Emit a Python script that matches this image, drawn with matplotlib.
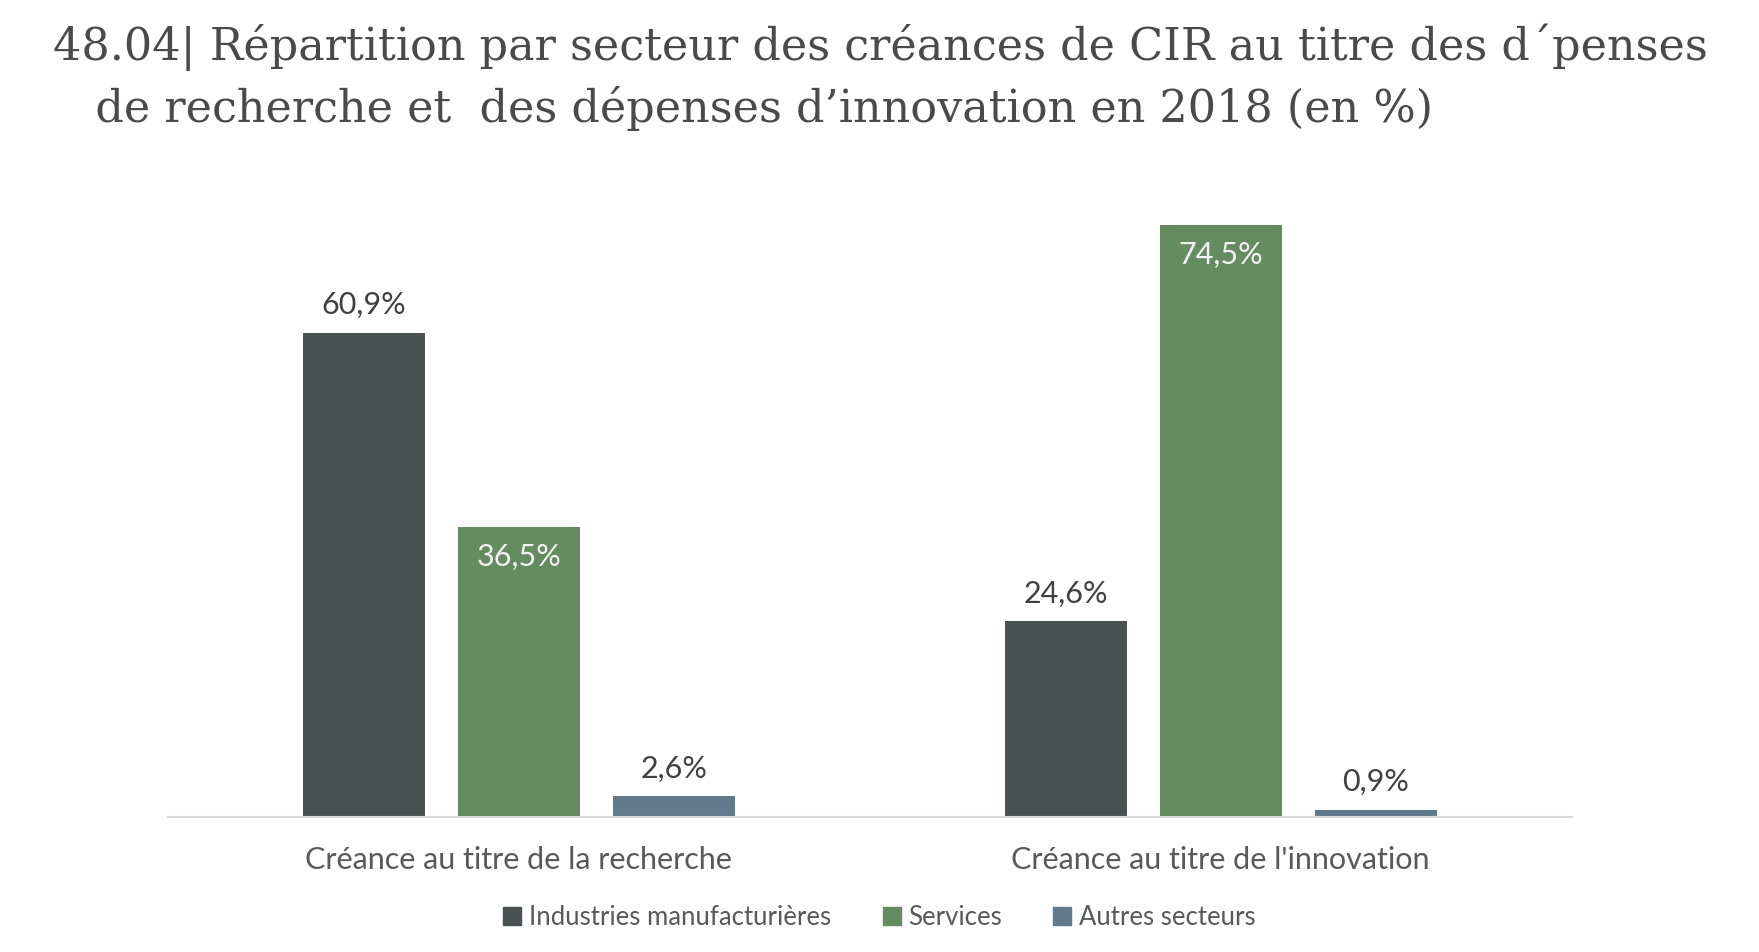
import matplotlib.pyplot as plt
import numpy as np
from matplotlib.patches import Patch

# Données
categories = ["Créance au titre de la recherche", "Créance au titre de l'innovation"]
secteurs = ["Industries manufacturières", "Services", "Autres secteurs"]
industries = [60.9, 24.6]
services = [36.5, 74.5]
autres = [2.6, 0.9]
series = [industries, services, autres]

couleurs = ["#4b5152", "#658c60", "#60798c"]
title_text = ("48.04| Répartition par secteur des créances de CIR au titre des d´penses\n"
              "   de recherche et  des dépenses d’innovation en 2018 (en %)")

plt.rcParams["font.family"] = ["Lato", "DejaVu Sans"]

fig = plt.figure(figsize=(17.59, 9.52), dpi=100)
ax = fig.add_axes([0.0955, 0.1418, 0.798, 0.668])

x = np.arange(len(categories))
largeur = 0.174
ecart = 0.221

for i, (valeurs, couleur) in enumerate(zip(series, couleurs)):
    pos = x + (i - 1) * ecart
    ax.bar(pos, valeurs, width=largeur, color=couleur, label=secteurs[i])
    for xb, v in zip(pos, valeurs):
        texte = f"{v:.1f}%".replace(".", ",")
        # étiquette à l'intérieur pour la série Services
        if i == 1:
            ax.annotate(texte, (xb, v), xytext=(0, -21.5),
                        textcoords="offset points", ha="center", va="center",
                        fontsize=22, color="#f2f2f2")
        else:
            ax.annotate(texte, (xb, v), xytext=(0, 20),
                        textcoords="offset points", ha="center", va="center",
                        fontsize=22, color="#404040")

ax.set_xlim(-0.5, 1.5)
ax.set_ylim(0, 80)
ax.set_xticks(x)
ax.set_xticklabels(categories, fontsize=22, color="#595959")
ax.tick_params(axis="x", length=0, pad=21)
ax.set_yticks([])
for s in ["top", "right", "left"]:
    ax.spines[s].set_visible(False)
ax.spines["bottom"].set_color("#d9d9d9")
ax.spines["bottom"].set_linewidth(1.5)

poignees = [Patch(color=c) for c in couleurs]
fig.legend(poignees, secteurs, loc="center", bbox_to_anchor=(0.5, 0.036), ncol=3,
           frameon=False, fontsize=18.5, handlelength=0.7, handleheight=0.7,
           handletextpad=0.3, columnspacing=2.0, labelcolor="#595959")

fig.text(0.030, 0.975, title_text, fontsize=32, color="#4a4a4a", family="DejaVu Serif",
         ha="left", va="top", linespacing=1.4)

fig.savefig("out.png", dpi=100)
